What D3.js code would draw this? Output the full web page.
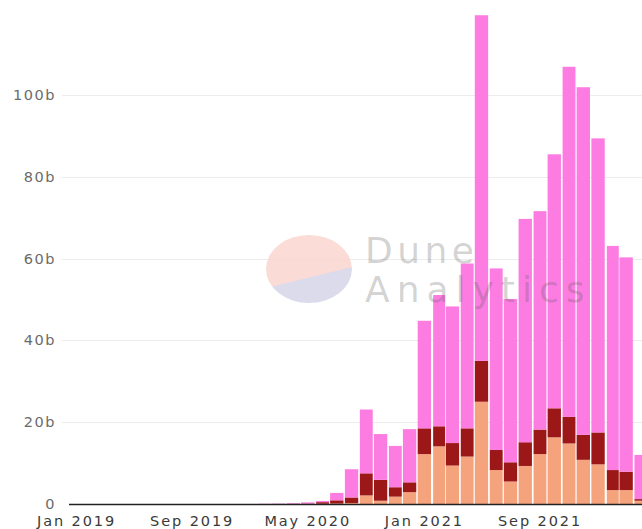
<!DOCTYPE html>
<html><head><meta charset="utf-8">
<script src="https://cdn.jsdelivr.net/npm/d3@7"></script>
<style>
html,body{margin:0;padding:0;background:#fff;overflow:hidden}
svg{display:block}
</style></head>
<body>
<svg id="chart" width="642" height="529"></svg>
<script>
const months = ["2019-01","2019-02","2019-03","2019-04","2019-05","2019-06","2019-07","2019-08","2019-09","2019-10","2019-11","2019-12",
"2020-01","2020-02","2020-03","2020-04","2020-05","2020-06","2020-07","2020-08","2020-09","2020-10","2020-11","2020-12",
"2021-01","2021-02","2021-03","2021-04","2021-05","2021-06","2021-07","2021-08","2021-09","2021-10","2021-11","2021-12",
"2022-01","2022-02","2022-03","2022-04"];
// billions
const seriesBottom = [0,0,0,0,0,0,0,0,0,0,0,0, 0,0,0,0,0,0.05,0.1,0.25,2.1,0.8,1.8,2.9, 12.2,14.1,9.4,11.6,25,8.3,5.5,9.3,12.2,16.3,14.8,10.8, 9.7,3.4,3.4,0.8];
const seriesMiddle = [0,0,0,0,0,0,0,0,0,0,0,0, 0,0,0,0.05,0.1,0.4,0.8,1.35,5.4,5.1,2.3,2.4, 6.3,4.9,5.5,6.9,10,4.9,4.7,5.8,6.0,7.1,6.5,6.1, 7.8,4.9,4.5,0.4];
const seriesTop    = [0,0,0,0,0,0,0,0,0,0,0,0, 0,0.05,0.1,0.15,0.3,0.3,1.8,6.9,15.6,11.2,10.1,13.0, 26.3,32.1,33.4,40.3,84.5,44.4,39.9,54.6,53.4,62.1,85.6,85.0, 71.9,54.8,52.4,10.8];
const yTicks = [0,20,40,60,80,100];
const xTickLabels = ["Jan 2019","Sep 2019","May 2020","Jan 2021","Sep 2021"];
const xTickDates = ["2019-01","2019-09","2020-05","2021-01","2021-09"];
const colors = ["#f5a37d","#9c1818","#fd7ce1"];

const parse = d3.timeParse("%Y-%m");
const svg = d3.select("#chart");
const W = 642, H = 529;

const x = d3.scaleTime().domain([parse("2019-01"), parse("2021-09")]).range([76.5, 540]);
const y = d3.scaleLinear().domain([0, 100]).range([504, 95]);

const data = months.map((m,i)=>({date: parse(m), a: seriesBottom[i], b: seriesMiddle[i], c: seriesTop[i]}));
const stack = d3.stack().keys(["a","b","c"])(data);

// grid
const grid = svg.append("g");
grid.selectAll("line").data(yTicks.filter(d=>d>0)).join("line")
  .attr("x1", 62).attr("x2", W).attr("y1", d=>Math.round(y(d))+0.5).attr("y2", d=>Math.round(y(d))+0.5)
  .attr("stroke", "#ececec").attr("stroke-width", 1);

// y labels
svg.append("g").selectAll("text").data(yTicks).join("text")
  .attr("x", 56).attr("y", d=>y(d)).attr("text-anchor","end").attr("dominant-baseline","central")
  .attr("font-family","DejaVu Sans, sans-serif").attr("font-size", 14.5).attr("letter-spacing", 1.5)
  .attr("fill","#6b6b6b")
  .text(d=> d===0 ? "0" : d + "b");

// bars
const bw = d => {
  const next = d3.timeMonth.offset(d, 1);
  return x(next) - x(d) - 1.4;
};
svg.append("g").selectAll("g").data(stack).join("g")
  .attr("fill", (d,i)=>colors[i])
  .selectAll("rect").data(d=>d).join("rect")
  .attr("x", d=> x(d.data.date) - bw(d.data.date)/2)
  .attr("width", d=> bw(d.data.date))
  .attr("y", d=> y(d[1]))
  .attr("height", d=> Math.max(0, y(d[0]) - y(d[1])));

// baseline
svg.append("line").attr("x1", 69).attr("x2", W).attr("y1", 504.5).attr("y2", 504.5)
  .attr("stroke", "#222").attr("stroke-width", 1.6);

// x labels
svg.append("g").selectAll("text").data(xTickDates).join("text")
  .attr("x", d=> x(parse(d))).attr("y", 526).attr("text-anchor","middle")
  .attr("font-family","DejaVu Sans, sans-serif").attr("font-size", 14.5).attr("letter-spacing", 1.9)
  .attr("fill","#3a3a3a")
  .text((d,i)=> xTickLabels[i]);

// watermark
const wm = svg.append("g");
const cx = 309, cy = 269, rx = 43, ry = 34;
wm.append("clipPath").attr("id","ell").append("ellipse").attr("cx",cx).attr("cy",cy).attr("rx",rx).attr("ry",ry);
const eg = wm.append("g").attr("clip-path","url(#ell)").attr("opacity",0.9);
eg.append("rect").attr("x",cx-rx).attr("y",cy-ry).attr("width",2*rx).attr("height",2*ry).attr("fill","#fbd8d1");
eg.append("path").attr("d", `M${cx-rx},${cy+19} L${cx+rx},${cy-2} L${cx+rx},${cy+ry} L${cx-rx},${cy+ry} Z`).attr("fill","#d9d8ea");
wm.append("text").attr("x",365).attr("y",263).attr("font-family","DejaVu Sans, sans-serif").attr("font-size",36)
  .attr("letter-spacing",4.5).attr("fill","#555").attr("fill-opacity",0.26).text("Dune");
wm.append("text").attr("x",365).attr("y",302).attr("font-family","DejaVu Sans, sans-serif").attr("font-size",36)
  .attr("letter-spacing",7).attr("fill","#555").attr("fill-opacity",0.26).text("Analytics");
</script>
</body></html>
